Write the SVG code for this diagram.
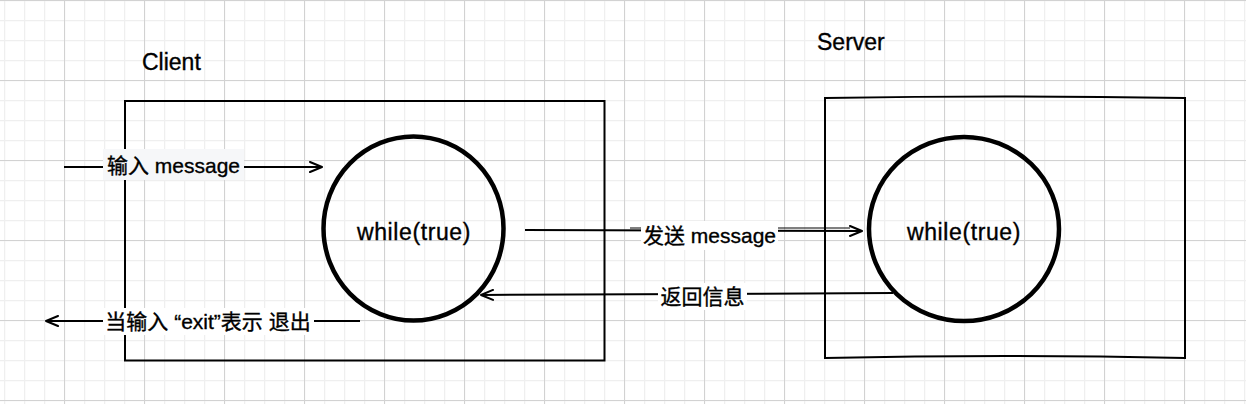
<svg xmlns="http://www.w3.org/2000/svg" width="1246" height="404" viewBox="0 0 1246 404">
<defs>
<pattern id="minor" patternUnits="userSpaceOnUse" x="4" y="0" width="20" height="20">
<path d="M0.5 0V20M0 0.5H20" stroke="#efefef" stroke-width="1.5" fill="none"/>
</pattern>
<pattern id="major" patternUnits="userSpaceOnUse" x="64" y="0" width="80" height="80">
<path d="M0.5 0V80M0 0.5H80" stroke="#d2d2d2" stroke-width="1" fill="none"/>
</pattern>
<marker id="arr" viewBox="0 0 14 12" refX="13" refY="6" markerWidth="14" markerHeight="12" markerUnits="userSpaceOnUse" orient="auto">
<path d="M1 1L13 6L1 11" fill="none" stroke="#000" stroke-width="2" stroke-linejoin="round" stroke-linecap="round"/>
</marker>
</defs>
<style>
.box{fill:none;stroke:#000;stroke-width:2}
.loop{fill:none;stroke:#000;stroke-width:4.5}
.t{font-family:"Liberation Sans","Noto Sans CJK SC",sans-serif;fill:#000;stroke:#000;stroke-width:0.35}
.title{font-size:23px}
.inner{font-size:23px;text-anchor:middle;letter-spacing:0.6px}
.lbl{font-size:21px;text-anchor:middle}
.conn{fill:none;stroke:#000;stroke-width:2;marker-end:url(#arr)}
</style>
<rect width="1246" height="404" fill="#fff"/>
<rect width="1246" height="404" fill="url(#minor)"/>
<rect width="1246" height="404" fill="url(#major)"/>

<g id="client-title"><text class="t title" x="142" y="70">Client</text></g>
<g id="server-title"><text class="t title" x="817" y="50">Server</text></g>

<g id="client-box"><path class="box" d="M125 101H604.5V360.5H125Z"/></g>
<g id="server-box"><path class="box" d="M825 98Q1005 95 1185 98V358Q1005 354 825 358Z"/></g>

<g id="client-loop">
<ellipse class="loop" cx="413.5" cy="228.5" rx="90" ry="92"/>
<text class="t inner" x="414" y="240">while(true)</text>
</g>
<g id="server-loop">
<ellipse class="loop" cx="964" cy="229" rx="95" ry="92"/>
<text class="t inner" x="964" y="240">while(true)</text>
</g>

<g id="connectors">
<path class="conn" d="M64 167H322"/>
<rect x="103" y="149" width="141" height="31" fill="#f6f7f9"/>
<text class="t lbl" x="173.5" y="173">输入 message</text>

<path class="conn" d="M525 230L862 231"/>
<path d="M630 228H850" stroke="#000" stroke-width="1" fill="none"/>
<rect x="641" y="221" width="137" height="29" fill="#fff"/>
<text class="t lbl" x="709.5" y="243">发送 message</text>

<path class="conn" d="M893 293L481 295"/>
<rect x="658" y="283" width="89" height="27" fill="#fff"/>
<text class="t lbl" x="702.5" y="304">返回信息</text>

<path class="conn" d="M360 321H46"/>
<rect x="103" y="308" width="211" height="27" fill="#fff"/>
<text class="t lbl" x="208" y="329">当输入 “exit”表示 退出</text>
</g>
</svg>
